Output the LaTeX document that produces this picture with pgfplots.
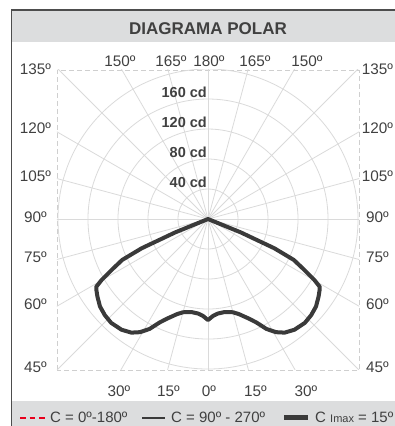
\documentclass[border=0pt]{standalone}
\usepackage{pgfplots}
\pgfplotsset{compat=1.18}
\usepackage{pgfplotstable}
\usepackage{fontspec}
\setmainfont{Liberation Sans}

\definecolor{gridcol}{HTML}{DADADA}
\definecolor{boxcol}{HTML}{CFCFCF}
\definecolor{barcol}{HTML}{DCDDDE}
\definecolor{framecol}{HTML}{4D4D4D}
\definecolor{txtcol}{HTML}{404040}
\definecolor{curvecol}{HTML}{3A3A3A}
\definecolor{legred}{HTML}{E8001C}

% C Imax curve: angle from nadir (negative = left half), intensity in cd
\pgfplotstableread{
ang cd
-90 0
-67.8 47.3
-66.2 96.7
-64.5 126.7
-62.3 144
-60.2 163.3
-58.8 174
-57.5 176.4
-55 180
-51 185.3
-47 188
-43 189.3
-38 187.3
-34 182.7
-31 176
-28 166
-25 152
-22 142.7
-18 133.3
-15 128.7
-10 126
-6 126.7
-3 129.3
0 134.7
3 129.3
6 126.7
10 126
15 128.7
18 133.3
22 142.7
25 152
28 166
31 176
34 182.7
38 187.3
43 189.3
47 188
51 185.3
55 180
57.5 176.4
58.8 174
60.2 163.3
62.3 144
64.5 126.7
66.2 96.7
67.8 47.3
90 0
}\imaxtable

\newcommand\lbl{\fontsize{15.3}{15.3}\selectfont\color{txtcol}}
\newcommand\leg{\fontsize{15}{15}\selectfont\color{txtcol}}

\begin{document}
\begin{tikzpicture}
\useasboundingbox (0pt,0pt) rectangle (395pt,426pt);
% frame, title bar, legend bar
\fill[barcol] (11.6pt,384pt) rectangle (395pt,415.8pt);
\fill[barcol] (11.6pt,0pt) rectangle (395pt,25.3pt);
\draw[framecol, line width=1.6pt] (11.6pt,-2pt) -- (11.6pt,415.8pt) -- (400pt,415.8pt);
\node[anchor=base, inner sep=0pt, font=\fontsize{17}{17}\selectfont\bfseries, text=txtcol]
  at (208pt,391pt) {DIAGRAMA POLAR};

\begin{axis}[
  at={(57pt,56pt)}, anchor=south west,
  width=302pt, height=300pt, scale only axis,
  xmin=-201.3, xmax=201.3, ymin=-201.3, ymax=198.7,
  ticks=none,
  axis line style={boxcol, line width=0.8pt, dash pattern=on 5pt off 3pt},
]
\pgfplotsinvokeforeach{0,15,...,345}{
  \draw[gridcol, line width=0.8pt] (axis cs:0,0) -- (axis cs:{300*cos(#1)},{300*sin(#1)});
}
\pgfplotsinvokeforeach{40,80,120,160,200}{
  \draw[gridcol, line width=0.8pt] (axis cs:0,0) circle[radius=#1];
}
\pgfplotsinvokeforeach{40,80,120,160}{
  \node[anchor=south east, inner sep=1pt, font=\fontsize{14.5}{14.5}\selectfont\bfseries, text=txtcol]
    at (axis cs:0,#1) {#1 cd};
}
\addplot[curvecol, line width=4pt, line join=round, line cap=round]
  table[x expr={\thisrow{cd}*sin(\thisrow{ang})}, y expr={-\thisrow{cd}*cos(\thisrow{ang})}] {\imaxtable};
\end{axis}

% angle labels
\foreach \t/\y in {135º/351, 120º/292.7, 105º/244, 90º/203, 75º/163, 60º/116, 45º/53}{
  \node[anchor=base, inner sep=0pt] at (35.5pt,\y pt) {\lbl \t};
  \node[anchor=base, inner sep=0pt] at (377.5pt,\y pt) {\lbl \t};
}
\foreach \t/\x in {150º/120, 165º/171, 180º/209, 165º/255, 150º/307}{
  \node[anchor=base, inner sep=0pt] at (\x pt,359pt) {\lbl \t};
}
\foreach \t/\x in {30º/119, 15º/168.5, 0º/209, 15º/255.5, 30º/306}{
  \node[anchor=base, inner sep=0pt] at (\x pt,29pt) {\lbl \t};
}

% legend
\draw[legred, line width=2pt, dash pattern=on 5.7pt off 4pt] (20pt,8.3pt) -- (45pt,8.3pt);
\node[anchor=base west, inner sep=0pt] at (50pt,3.3pt) {\leg C = 0º-180º};
\draw[curvecol, line width=2pt] (142pt,8.3pt) -- (165pt,8.3pt);
\node[anchor=base west, inner sep=0pt] at (171pt,3.3pt) {\leg C = 90º - 270º};
\draw[curvecol, line width=5pt] (284pt,8.3pt) -- (308pt,8.3pt);
\node[anchor=base west, inner sep=0pt] at (315pt,3.3pt) {\leg C {\fontsize{11}{11}\selectfont Imax} = 15º};
\end{tikzpicture}
\end{document}
